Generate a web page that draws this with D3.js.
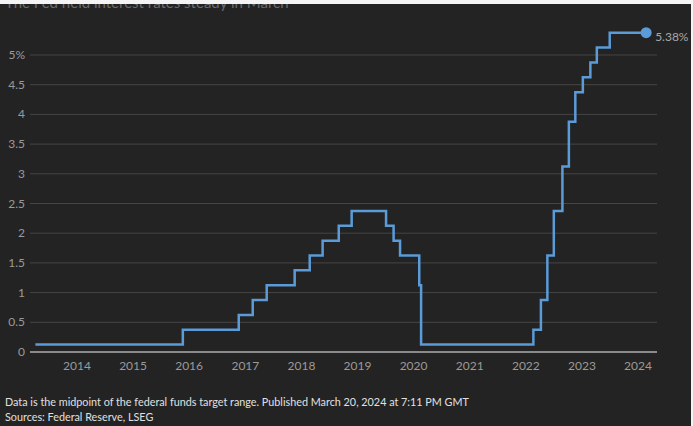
<!DOCTYPE html>
<html>
<head>
<meta charset="utf-8">
<script src="https://cdn.jsdelivr.net/npm/d3@7"></script>
<style>
  body { margin: 0; background: #f4f4f4; }
  #chart { width: 693px; height: 426px; }
  text { font-family: Lato, "Open Sans", sans-serif; }
</style>
</head>
<body>
<div id="chart"></div>
<script>
// Fed funds target range midpoint, change dates
const dates = ["2013-05-01", "2015-12-17", "2016-12-15", "2017-03-16", "2017-06-15", "2017-12-14",
    "2018-03-22", "2018-06-14", "2018-09-27", "2018-12-20", "2019-08-01", "2019-09-19",
    "2019-10-31", "2020-03-04", "2020-03-16", "2022-03-17", "2022-05-05", "2022-06-16",
    "2022-07-28", "2022-09-22", "2022-11-03", "2022-12-15", "2023-02-02", "2023-03-23",
    "2023-05-04", "2023-07-27", "2024-03-20"];
const rates = [0.125, 0.375, 0.625, 0.875, 1.125, 1.375, 1.625, 1.875, 2.125, 2.375, 2.125, 1.875,
    1.625, 1.125, 0.125, 0.375, 0.875, 1.625, 2.375, 3.125, 3.875, 4.375, 4.625, 4.875,
    5.125, 5.375, 5.375];
const yTicks = [0, 0.5, 1, 1.5, 2, 2.5, 3, 3.5, 4, 4.5, 5];
const yearTicks = [2014, 2015, 2016, 2017, 2018, 2019, 2020, 2021, 2022, 2023, 2024];

const parse = d3.timeParse("%Y-%m-%d");
const data = dates.map((d, i) => ({date: parse(d), rate: rates[i]}));

const W = 693, H = 426;
const svg = d3.select("#chart").append("svg")
    .attr("width", W)
    .attr("height", H);

// dark panel (screenshot has a thin light edge at top and right)
svg.append("rect")
    .attr("x", 0)
    .attr("y", 4)
    .attr("width", 691)
    .attr("height", H - 4)
    .attr("fill", "#232323");

// headline, mostly cut off at the top
svg.append("text")
    .attr("x", 5)
    .attr("y", 8)
    .attr("fill", "#6a6a6a")
    .style("font-size", "15px")
    .text("The Fed held interest rates steady in March");
svg.append("rect")
    .attr("x", 0)
    .attr("y", 0)
    .attr("width", W)
    .attr("height", 4)
    .attr("fill", "#f4f4f4");

const x = d3.scaleTime()
    .domain([new Date(2014, 0, 1), new Date(2024, 0, 1)])
    .range([73, 634]);
const y = d3.scaleLinear()
    .domain([0, 5])
    .range([352, 55]);

// gridlines
svg.append("g")
    .selectAll("line")
    .data(yTicks.filter(d => d > 0))
    .join("line")
    .attr("x1", 30)
    .attr("x2", 657)
    .attr("y1", d => y(d))
    .attr("y2", d => y(d))
    .attr("stroke", "#454545")
    .attr("stroke-width", 1);

// y labels
svg.append("g")
    .selectAll("text")
    .data(yTicks)
    .join("text")
    .attr("x", 25)
    .attr("y", d => y(d) + 4)
    .attr("text-anchor", "end")
    .attr("fill", "#9a9a9a")
    .style("font-size", "12px")
    .text(d => d === 5 ? "5%" : d);

// zero line
svg.append("line")
    .attr("x1", 30)
    .attr("x2", 657)
    .attr("y1", y(0))
    .attr("y2", y(0))
    .attr("stroke", "#8a8a8a")
    .attr("stroke-width", 2);

// x axis labels
svg.append("g")
    .selectAll("text")
    .data(yearTicks)
    .join("text")
    .attr("x", d => x(new Date(d, 0, 1)) + 4)
    .attr("y", 370)
    .attr("text-anchor", "middle")
    .attr("fill", "#9a9a9a")
    .style("font-size", "12px")
    .text(d => d);

// step line
const line = d3.line()
    .x(d => x(d.date))
    .y(d => y(d.rate))
    .curve(d3.curveStepAfter);

svg.append("path")
    .datum(data)
    .attr("d", line)
    .attr("fill", "none")
    .attr("stroke", "#5b9bd8")
    .attr("stroke-width", 2.5);

const last = data[data.length - 1];
svg.append("circle")
    .attr("cx", x(last.date))
    .attr("cy", y(last.rate))
    .attr("r", 5.5)
    .attr("fill", "#5b9bd8");

svg.append("text")
    .attr("x", x(last.date) + 9)
    .attr("y", y(last.rate) + 8)
    .attr("fill", "#a8a8a8")
    .style("font-size", "12px")
    .text(d3.format(".2f")(last.rate) + "%");

// footer
svg.append("text")
    .attr("x", 5)
    .attr("y", 406)
    .attr("fill", "#e0e0e0")
    .style("font-size", "10.8px")
    .text("Data is the midpoint of the federal funds target range. Published March 20, 2024 at 7:11 PM GMT");
svg.append("text")
    .attr("x", 5)
    .attr("y", 421)
    .attr("fill", "#e0e0e0")
    .style("font-size", "10.8px")
    .text("Sources: Federal Reserve, LSEG");
</script>
</body>
</html>
